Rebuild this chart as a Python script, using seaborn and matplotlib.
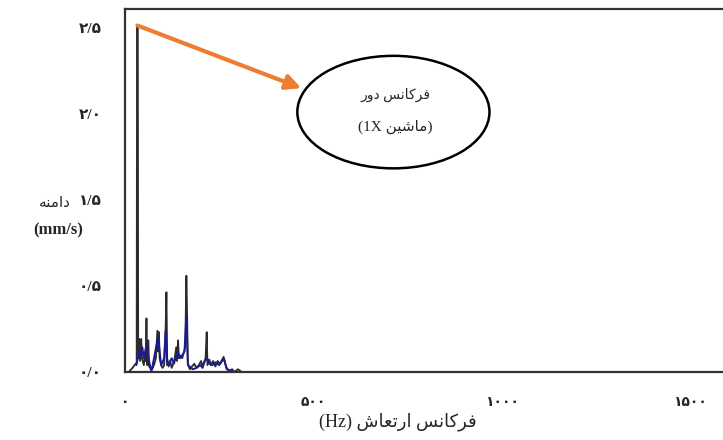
import numpy as np
import pandas as pd
import seaborn as sns
import matplotlib.pyplot as plt
from matplotlib.patches import Ellipse

# spectrum (Hz, mm/s)
freq_black = [0, 10, 20, 28, 31, 32, 34, 35, 38, 40, 43, 45, 50, 53, 55, 57, 59, 62, 64,
              70, 74, 78, 82, 86, 88, 90, 92, 96, 100, 104, 108, 110, 112, 116, 120, 124,
              128, 132, 136, 138, 141, 143, 148, 152, 156, 160, 163, 165, 167, 172, 178,
              184, 190, 196, 202, 206, 210, 214, 217, 219, 224, 228, 234, 240, 246, 252,
              258, 262, 266, 270, 276, 285, 290, 300, 310, 1620]
amp_black = [0.0, 0.0, 0.03, 0.06, 0.06, 2.52, 2.52, 0.10, 0.24, 0.08, 0.24, 0.10, 0.05,
             0.12, 0.08, 0.39, 0.05, 0.23, 0.04, 0.02, 0.03, 0.06, 0.10, 0.30, 0.15, 0.29,
             0.10, 0.05, 0.03, 0.05, 0.33, 0.58, 0.10, 0.04, 0.08, 0.03, 0.06, 0.10, 0.18,
             0.08, 0.23, 0.10, 0.12, 0.10, 0.14, 0.18, 0.70, 0.40, 0.06, 0.02, 0.04, 0.06,
             0.03, 0.05, 0.08, 0.04, 0.07, 0.10, 0.29, 0.05, 0.09, 0.05, 0.08, 0.04, 0.08,
             0.06, 0.09, 0.11, 0.06, 0.03, 0.01, 0.02, 0.0, 0.02, 0.0, 0.0]

freq_blue = [30, 38, 42, 46, 50, 57, 60, 64, 70, 84, 88, 92, 96, 104, 108, 112, 118, 124,
             130, 136, 140, 146, 152, 158, 163, 167, 180, 190, 200, 206, 212, 218, 224,
             232, 240, 250, 258, 264, 270, 290]
amp_blue = [0.05, 0.15, 0.12, 0.18, 0.10, 0.20, 0.12, 0.08, 0.0, 0.20, 0.25, 0.15, 0.05,
            0.10, 0.30, 0.05, 0.07, 0.10, 0.06, 0.12, 0.15, 0.10, 0.12, 0.15, 0.40, 0.05,
            0.02, 0.03, 0.05, 0.03, 0.08, 0.10, 0.06, 0.05, 0.07, 0.05, 0.08, 0.09, 0.02, 0.0]

x_ticks = [0, 500, 1000, 1500]
x_labels = ["\u06F0", "\u06F5\u06F0\u06F0", "\u06F1\u06F0\u06F0\u06F0", "\u06F1\u06F5\u06F0\u06F0"]
y_ticks = [0.0, 0.625, 1.25, 1.875, 2.5]
y_labels = ["\u06F0/\u06F0", "\u06F0/\u06F5", "\u06F1/\u06F5", "\u06F2/\u06F0", "\u06F2/\u06F5"]

# Persian strings, pre-shaped (presentation forms, visual order)
ylab_fa = "\uFEEA\uFEE8\uFEE3\uFE8D\uFEA9"                      # دامنه
xlab_fa = "(Hz) \uFEB5\uFE8E\uFECC\uFE97\uFEAD\uFE8D \uFEB2\uFEE7\uFE8E\uFB90\uFEAE\uFED3"
note1 = "\uFEAD\uFEED\uFEA9 \uFEB2\uFEE7\uFE8E\uFB90\uFEAE\uFED3"  # فرکانس دور
note2 = "(1X \uFEE6\uFBFF\uFEB7\uFE8E\uFEE3)"                     # (1X ماشین)

black = pd.DataFrame({"freq": freq_black, "amp": amp_black})
blue = pd.DataFrame({"freq": freq_blue, "amp": amp_blue})

sns.set_style("white")
fam = ["Liberation Serif", "DejaVu Sans"]

fig = plt.figure(figsize=(7.23, 4.4), dpi=100)
ax = fig.add_axes([125 / 723, 68 / 440, 610 / 723, 363 / 440])

sns.lineplot(data=black, x="freq", y="amp", color="#2b2b2b", lw=1.3, ax=ax)
sns.lineplot(data=blue, x="freq", y="amp", color="#1c1c8c", lw=1.4, ax=ax)

ax.set_xlim(0, 1620)
ax.set_ylim(0, 2.64)
ax.set_xticks(x_ticks)
ax.set_xticklabels(x_labels, fontfamily=fam, fontweight="bold", fontsize=10)
ax.set_yticks(y_ticks)
ax.set_yticklabels(y_labels, fontfamily=fam, fontweight="bold", fontsize=11)
ax.tick_params(axis="both", direction="out", length=3, width=1, color="#222222", pad=14)
ax.set_xlabel("")
ax.set_ylabel("")
for side in ["top", "bottom", "left"]:
    ax.spines[side].set_color("#333333")
    ax.spines[side].set_linewidth(1.6)
ax.spines["right"].set_visible(False)

fig.text(55 / 723, 1 - 203 / 440, ylab_fa, fontfamily=fam, fontsize=11,
         ha="center", va="center")
fig.text(58 / 723, 1 - 230 / 440, "(mm/s)", fontfamily=fam, fontsize=12,
         fontweight="bold", ha="center", va="center")
fig.text(398 / 723, 1 - 422 / 440, xlab_fa, fontfamily=fam, fontsize=13,
         ha="center", va="center")

# callout ellipse and arrow
ell = Ellipse((0.440, 0.716), 0.315, 0.31, transform=ax.transAxes,
              facecolor="white", edgecolor="black", lw=1.8, zorder=5)
ax.add_patch(ell)
ax.text(0.443, 0.764, note1, transform=ax.transAxes, fontfamily=fam, fontsize=10,
        ha="center", va="center", zorder=6)
ax.text(0.443, 0.675, note2, transform=ax.transAxes, fontfamily=fam, fontsize=11,
        ha="center", va="center", zorder=6)
ax.annotate("", xy=(0.289, 0.782), xycoords="axes fraction",
            xytext=(33, 2.52), textcoords="data",
            arrowprops=dict(arrowstyle="-|>,head_length=0.9,head_width=0.45",
                            color="#ED7D31", lw=3, shrinkA=0, shrinkB=0),
            zorder=7)

plt.savefig("out.png", dpi=100)
